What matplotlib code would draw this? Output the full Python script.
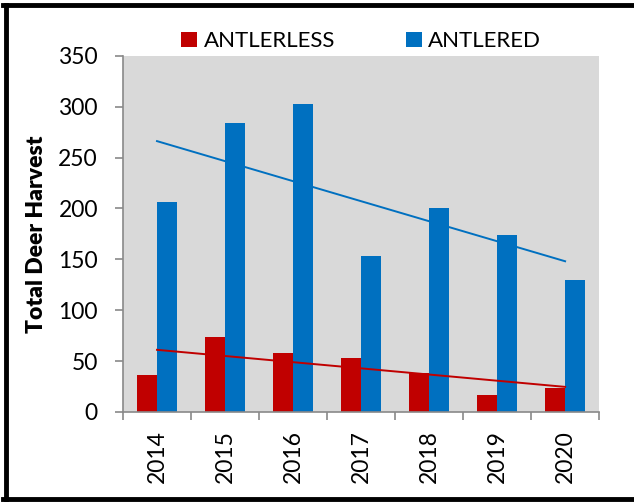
import numpy as np
import matplotlib.pyplot as plt
from matplotlib.lines import Line2D

plt.rcParams['font.family'] = ['Lato', 'DejaVu Sans']

# Harvest data
years = ['2014', '2015', '2016', '2017', '2018', '2019', '2020']
antlerless = [36, 74, 58, 53, 38, 17, 24]
antlered = [206, 284, 303, 153, 200, 174, 130]

red = '#c00000'
blue = '#0070c0'

fig = plt.figure(figsize=(6.34, 5.03), dpi=100)
ax = fig.add_axes([0.194, 0.181, 0.751, 0.708])
ax.set_facecolor('#d9d9d9')

x = np.arange(len(years))
w = 0.29
ax.bar(x - w/2, antlerless, w, color=red, label='ANTLERLESS')
ax.bar(x + w/2, antlered, w, color=blue, label='ANTLERED')

# linear trendlines
for vals, col in [(antlered, blue), (antlerless, red)]:
    k, b = np.polyfit(x, vals, 1)
    ax.plot(x, k*x + b, color=col, linewidth=1.4)

ax.set_xlim(-0.5, len(years) - 0.5)
ax.set_ylim(0, 350)
ax.set_yticks(range(0, 351, 50))

ax.set_xticks(x)
ax.set_xticklabels(years, rotation=90, fontsize=16.5)
ax.set_xticks(np.arange(-0.5, len(years)), minor=True)
ax.tick_params(axis='x', which='major', length=0, pad=13)
ax.tick_params(axis='x', which='minor', length=6, color='#898989', width=1.2)
ax.tick_params(axis='y', length=6, color='#898989', width=1.2, pad=12, labelsize=16.5)

for s in ['top', 'right']:
    ax.spines[s].set_visible(False)
for s in ['left', 'bottom']:
    ax.spines[s].set_color('#898989')
    ax.spines[s].set_linewidth(1.2)

ax.set_ylabel('Total Deer Harvest', fontsize=16.5, fontweight='heavy')
ax.yaxis.set_label_coords(-0.16, 0.5)

fig.legend(loc='center', bbox_to_anchor=(0.57, 0.918), ncol=2, frameon=False,
           fontsize=16, handlelength=0.7, handleheight=0.7, handletextpad=0.3,
           columnspacing=3.2)

# outer border (top, left, bottom)
fig.add_artist(Line2D([0.005, 1.0], [0.991, 0.991], color='black', linewidth=3.5,
                      transform=fig.transFigure))
fig.add_artist(Line2D([0.009, 0.009], [0.008, 0.991], color='black', linewidth=3.5,
                      transform=fig.transFigure))
fig.add_artist(Line2D([0.005, 1.0], [0.008, 0.008], color='black', linewidth=3.5,
                      transform=fig.transFigure))

plt.savefig('out.png', dpi=100)
